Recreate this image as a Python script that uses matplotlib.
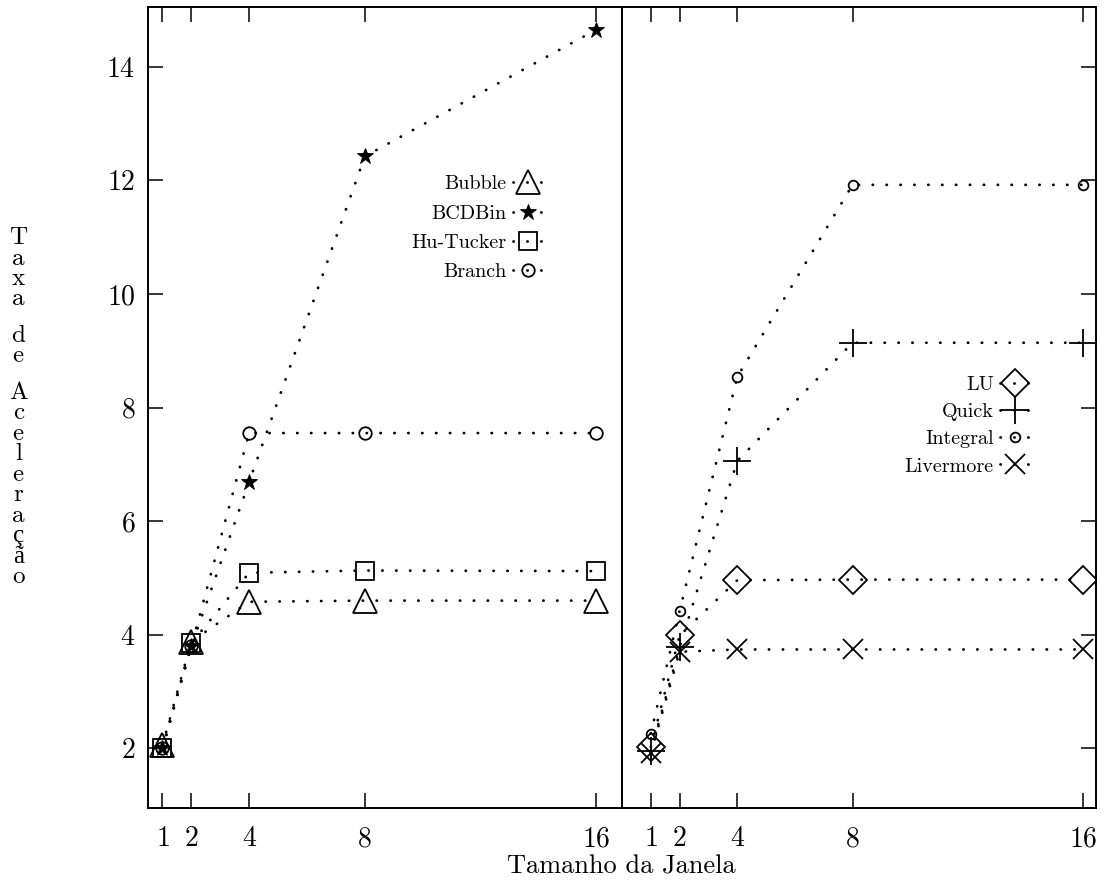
import matplotlib
matplotlib.use("Agg")
import matplotlib.pyplot as plt

plt.rcParams['font.family'] = ['cmr10', 'Liberation Serif', 'DejaVu Serif']
plt.rcParams['axes.formatter.use_mathtext'] = True

janela = [1, 2, 4, 8, 16]

# painel esquerdo
bubble = [2.05, 3.88, 4.58, 4.6, 4.6]
bcdbin = [2.0, 3.8, 6.69, 12.42, 14.65]
hutucker = [2.0, 3.85, 5.09, 5.13, 5.12]
branch = [2.0, 3.8, 7.55, 7.55, 7.55]

# painel direito
lu = [2.02, 3.99, 4.96, 4.97, 4.97]
quick = [1.95, 3.78, 7.06, 9.14, 9.14]
integral = [2.26, 4.42, 8.54, 11.92, 11.92]
livermore = [1.92, 3.7, 3.74, 3.74, 3.74]

yticks = [2, 4, 6, 8, 10, 12, 14]

fig = plt.figure(figsize=(11.06, 8.83), dpi=100)
ax1 = fig.add_axes([0.1338, 0.085, 0.4286, 0.907])
ax2 = fig.add_axes([0.5624, 0.085, 0.4286, 0.907], sharey=ax1)

dots = (0, (0.1, 4.9))
estilo = dict(color='black', linestyle=dots, linewidth=2.0, dash_capstyle='round',
              markerfacecolor='none', markeredgecolor='black', markeredgewidth=1.3)

ax1.plot(janela, bubble, marker='^', markersize=17, label='Bubble', **estilo)
ax1.plot(janela, bcdbin, marker='*', markersize=12, label='BCDBin',
         **{**estilo, 'markerfacecolor': 'black', 'markeredgewidth': 0.6})
ax1.plot(janela, hutucker, marker='s', markersize=13, label='Hu-Tucker', **estilo)
ax1.plot(janela, branch, marker='o', markersize=9, label='Branch', **estilo)

ax2.plot(janela, lu, marker='D', markersize=14, label='LU', **estilo)
ax2.plot(janela, quick, marker='+', markersize=20, label='Quick', **estilo)
ax2.plot(janela, integral, marker='o', markersize=7, label='Integral', **estilo)
ax2.plot(janela, livermore, marker='x', markersize=15, label='Livermore', **estilo)

ax1.set_xlim(0.5, 16.9)
ax2.set_xlim(0.0, 16.45)
ax1.set_ylim(0.95, 15.05)
ax1.set_yticks(yticks)

for ax in (ax1, ax2):
    ax.set_xticks(janela)
    ax.tick_params(direction='in', length=11, width=1.1, labelsize=20, top=True)
    ax.tick_params(axis='x', pad=13)
    ax.tick_params(axis='y', pad=9)
    for s in ax.spines.values():
        s.set_linewidth(1.4)

ax1.tick_params(axis='y', left=True, right=False)
ax2.tick_params(axis='y', left=False, right=True, labelleft=False)

leg_kw = dict(loc='upper right', frameon=False, markerfirst=False, fontsize=14.5,
              handlelength=1.5, handletextpad=0.3, borderpad=0)
ax1.legend(bbox_to_anchor=(0.854, 0.8025), labelspacing=0.55, **leg_kw)
ax2.legend(bbox_to_anchor=(0.882, 0.552), labelspacing=0.45, **leg_kw)

fig.text(0.562, 0.019, 'Tamanho da Janela', ha='center', va='center', fontsize=19)

# rótulo vertical, uma letra por linha
rotulo = 'Taxa de Aceleração'
y = 0.7305
for ch in rotulo:
    if ch == ' ':
        y -= 0.018
        continue
    fig.text(0.0165, y, ch, ha='center', va='center', fontsize=18)
    y -= 0.0232

fig.savefig('out.png', dpi=100)
